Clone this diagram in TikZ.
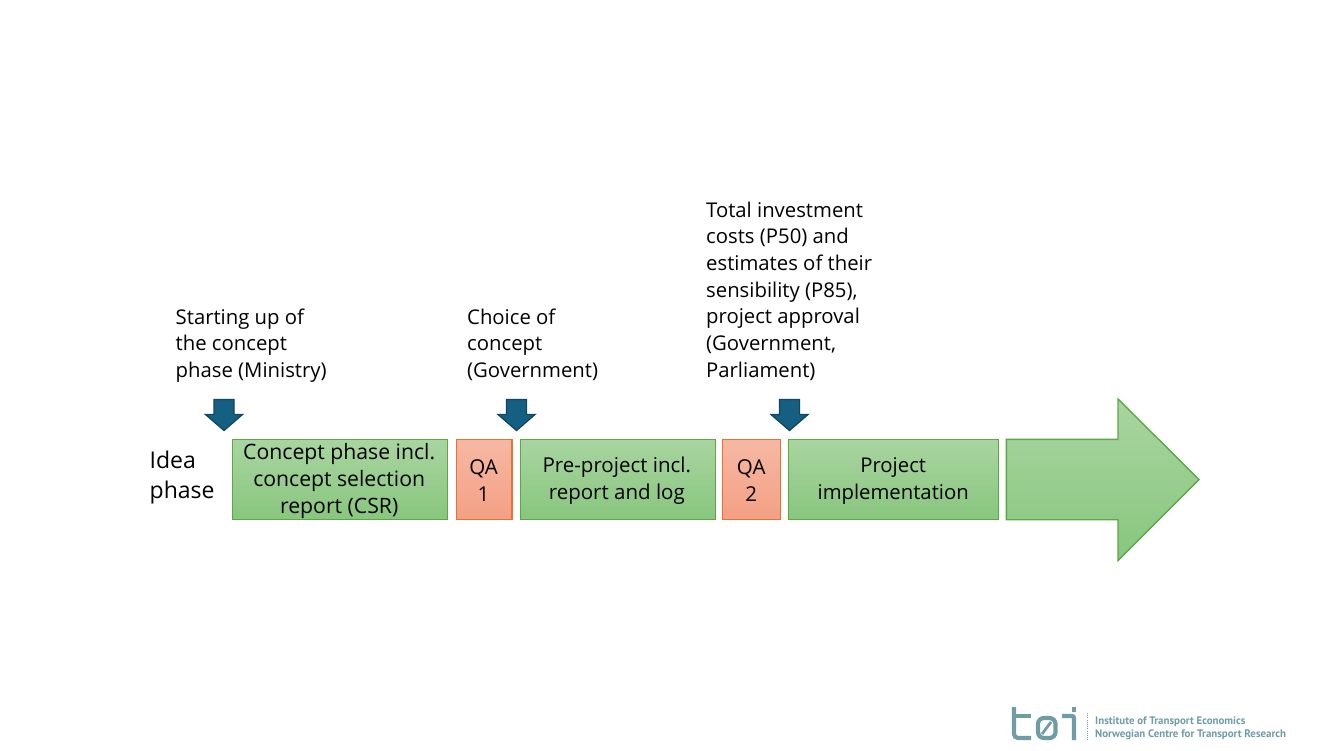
\documentclass[tikz,border=0pt]{standalone}
\usepackage{fontspec}
\setmainfont{Open Sans}
\newfontfamily\logofont{PT Sans}[BoldFont={PT Sans Bold}]
\definecolor{gtop}{HTML}{A9D5A0}
\definecolor{gbot}{HTML}{88C67E}
\definecolor{gline}{HTML}{5BA844}
\definecolor{otop}{HTML}{F6B8A3}
\definecolor{obot}{HTML}{F4A084}
\definecolor{oline}{HTML}{E97132}
\definecolor{bluefill}{HTML}{156082}
\definecolor{blueline}{HTML}{0F4761}
\definecolor{logoc}{HTML}{6F9CA5}
\tikzset{
  x=1pt,y=-1pt,
  phase/.style={draw=gline,line width=1.5pt,outer sep=0pt,top color=gtop,bottom color=gbot,shade,align=center,inner sep=0pt,anchor=north west,text=black,minimum height=80pt},
  qa/.style={phase,draw=oline,top color=otop,bottom color=obot},
  label/.style={align=left,anchor=north west,inner sep=0pt,font=\fontsize{20.3}{26.7}\selectfont,text=black},
  boxtext/.style={anchor=center,align=center,inner sep=0pt,text=black},
  downarrow/.style={fill=bluefill,draw=blueline,line width=1.3pt,line join=miter},
  logostroke/.style={draw=logoc,line width=4.2pt},
  logotext/.style={anchor=base west,inner sep=0pt,text=logoc,font=\logofont\bfseries\fontsize{10.9}{12}\selectfont}
}
\newcommand{\dnarrow}[1]{\draw[downarrow] (#1-10,399.5) -- (#1+10,399.5) -- (#1+10,414.5) -- (#1+18.5,414.5) -- (#1,430.5) -- (#1-18.5,414.5) -- (#1-10,414.5) -- cycle;}
\begin{document}
\begin{tikzpicture}
\useasboundingbox (0,0) rectangle (1333,750);
\node[label] (start) at (175.5,308.5) {Starting up of\\the concept\\phase (Ministry)};
\node[label] (choice) at (467,308.5) {Choice of\\concept\\(Government)};
\node[label] (total) at (706,201.5) {Total investment\\costs (P50) and\\estimates of their\\sensibility (P85),\\project approval\\(Government,\\Parliament)};
\node[label,font=\fontsize{23}{30}\selectfont] (idea) at (149.5,451) {Idea\\phase};
\dnarrow{224}
\dnarrow{516.5}
\dnarrow{789.5}
\node[phase,minimum width=215pt] (csr) at (232.7,439.3) {};
\node[boxtext,font=\fontsize{21.2}{26.7}\selectfont] (csrt) at ([xshift=-1pt,yshift=-1.5pt]csr.center) {Concept phase incl.\\concept selection\\report (CSR)};
\node[qa,minimum width=55.5pt] (qa1) at (456.3,439.3) {};
\node[boxtext,font=\fontsize{20.5}{26.7}\selectfont] (qa1t) at ([xshift=-0.5pt,yshift=-1pt]qa1.center) {QA\\1};
\node[phase,minimum width=195pt] (pre) at (520.3,439.3) {};
\node[boxtext,font=\fontsize{20.5}{26.7}\selectfont] (pret) at ([xshift=-1pt,yshift=-1.5pt]pre.center) {Pre-project incl.\\report and log};
\node[qa,minimum width=58pt] (qa2) at (722.7,439.3) {};
\node[boxtext,font=\fontsize{20.5}{26.7}\selectfont] (qa2t) at ([xshift=-0.5pt,yshift=-1pt]qa2.center) {QA\\2};
\node[phase,minimum width=210pt] (impl) at (788.7,439.3) {};
\node[boxtext,font=\fontsize{20.3}{26.7}\selectfont] (implt) at ([xshift=-0.5pt,yshift=-1.5pt]impl.center) {Project\\implementation};
\draw[draw=gline,line width=1.4pt,top color=gtop,bottom color=gbot,line join=miter]
  (1006.3,439.3) -- (1118,439.3) -- (1118,399) -- (1199,479.5) -- (1118,560.5) -- (1118,519.7) -- (1006.3,519.7) -- cycle;
% logo
\draw[logostroke,rounded corners=4pt] (1014,707) -- (1014,738) -- (1031,738);
\draw[logostroke] (1012,716) -- (1031,716);
\draw[logostroke,rounded corners=6pt] (1038,718) rectangle (1055.5,738);
\draw[draw=logoc,line width=2.8pt] (1042,734) -- (1051,722);
\draw[logostroke,rounded corners=2pt] (1062,716) -- (1074,716) -- (1074,740);
\fill[logoc] (1071.9,707) rectangle (1076.1,712);
\draw[logoc,line width=0.8pt,dash pattern=on 1pt off 1.2pt] (1087.5,713) -- (1087.5,741);
\node[logotext] (l1) at (1095,724) {Institute of Transport Economics};
\node[logotext] (l2) at (1095,737) {Norwegian Centre for Transport Research};
\end{tikzpicture}
\end{document}
